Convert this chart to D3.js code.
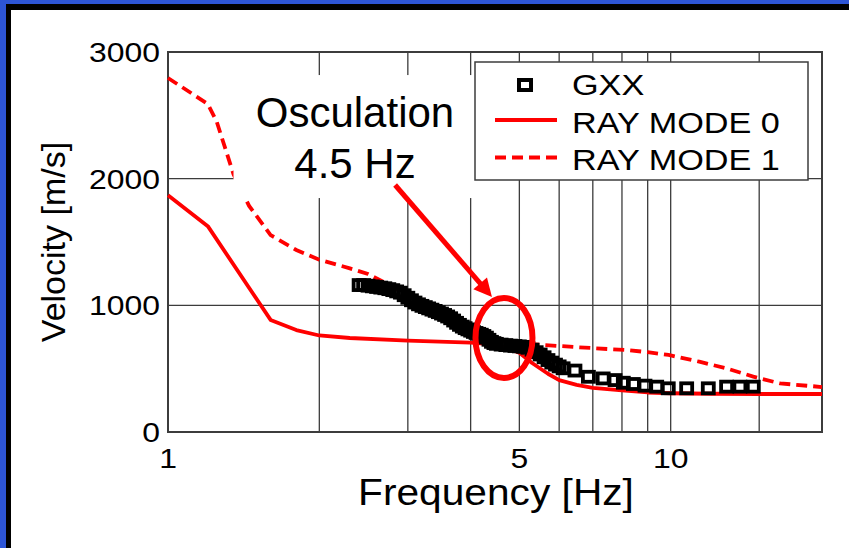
<!DOCTYPE html>
<html>
<head>
<meta charset="utf-8">
<script src="https://cdn.jsdelivr.net/npm/d3@7"></script>
<style>
  html, body { margin: 0; padding: 0; background: #2d55d6; }
  svg { display: block; }
  text { font-family: "Liberation Sans", Arial, Helvetica, sans-serif; fill: #000; }
</style>
</head>
<body>
<svg id="chart" width="849" height="548"></svg>
<script>
// tick labels and grid
const xTicks = [1, 5, 10];
const yTicks = [0, 1000, 2000, 3000];
const xGrid = [2, 3, 4, 5, 6, 7, 8, 9, 10, 15];
const yGrid = [1000, 2000];

// theoretical rayleigh modes [freq Hz, velocity m/s]
const mode0 = [[1,1870],[1.2,1625],[1.6,885],[1.8,805],[2,762],[2.3,742],[3,722],[4,705],[4.5,690],
  [5,625],[5.3,545],[5.7,460],[6,410],[6.5,372],[7,348],[8,328],[9,312],[10,306],[12,302],[15,300],[20,300]];
const mode1 = [[1,2795],[1.2,2590],[1.25,2450],[1.35,2035],[1.45,1785],[1.6,1555],[1.8,1437],[2,1360],
  [2.3,1292],[2.5,1247],[3,1085],[3.5,950],[4,830],[4.5,730],[5,700],[5.6,687],[6.5,670],[7.5,655],
  [8.2,647],[9,630],[9.9,608],[11.4,555],[12.9,503],[14.6,437],[16.5,384],[20,355]];

// measured GXX dispersion
const gxxFreq = [2.40,2.45,2.50,2.55,2.60,2.65,2.70,2.75,2.80,2.85,2.90,2.95,3.00,3.05,3.10,3.15,3.20,3.25,
  3.30,3.35,3.40,3.45,3.50,3.55,3.60,3.65,3.70,3.75,3.80,3.85,3.90,3.95,4.00,4.05,4.10,4.15,4.20,4.25,
  4.30,4.35,4.40,4.45,4.50,4.60,4.70,4.80,4.90,5.00,5.10,5.20,5.30,5.40,5.50,5.60,5.70,5.80,5.90,6.00,
  6.11,6.45,6.86,7.34,7.75,8.05,8.43,8.89,9.38,9.89,10.76,11.88,12.92,13.73,14.6];
const gxxVel = [1160,1160,1155,1150,1145,1140,1135,1128,1120,1110,1100,1080,1060,1040,1022,1008,996,986,
  976,966,956,946,935,924,912,898,880,862,846,832,820,810,800,790,782,775,768,758,
  745,728,712,702,696,690,686,682,679,676,672,665,650,630,612,590,568,548,532,518,
  503,485,436,423,410,389,379,366,358,345,345,345,358,358,358];

const legendLabels = ["GXX", "RAY MODE 0", "RAY MODE 1"];
const noteLines = ["Osculation", "4.5 Hz"];

const red = "#ff0000";
const gridCol = "#3c3c3c";

const svg = d3.select("#chart");

// slide frame: blue, black shadow, white page
svg.append("rect").attr("width", 849).attr("height", 548).attr("fill", "#2d55d6");
svg.append("rect").attr("x", 6).attr("y", 4).attr("width", 849).attr("height", 548).attr("fill", "#000");
svg.append("rect").attr("x", 11).attr("y", 10).attr("width", 849).attr("height", 548).attr("fill", "#fff");

const margin = { left: 168, right: 822, top: 52, bottom: 432 };
const x = d3.scaleLog().domain([1, 20]).range([margin.left, margin.right]);
const y = d3.scaleLinear().domain([0, 3000]).range([margin.bottom, margin.top]);

// horizontally stretched text, like the original figure
function sText(g, str, px, py, size, anchor, sx) {
  return g.append("text")
    .attr("transform", "translate(" + px + "," + py + ") scale(" + sx + ",1)")
    .attr("text-anchor", anchor)
    .style("font-size", size + "px")
    .text(str);
}

// grid
const grid = svg.append("g");
grid.selectAll(".vg").data(xGrid).enter().append("line")
  .attr("x1", d => x(d)).attr("x2", d => x(d))
  .attr("y1", margin.top).attr("y2", margin.bottom)
  .attr("stroke", gridCol).attr("stroke-width", 1.3);
grid.selectAll(".hg").data(yGrid).enter().append("line")
  .attr("x1", margin.left).attr("x2", margin.right)
  .attr("y1", d => y(d)).attr("y2", d => y(d))
  .attr("stroke", gridCol).attr("stroke-width", 1.3);
svg.append("rect")
  .attr("x", margin.left).attr("y", margin.top)
  .attr("width", margin.right - margin.left).attr("height", margin.bottom - margin.top)
  .attr("fill", "none").attr("stroke", gridCol).attr("stroke-width", 2);

// tick labels
const labels = svg.append("g");
xTicks.forEach(t => sText(labels, t, x(t), 468, 28, "middle", 1.14));
yTicks.forEach(t => sText(labels, t, 160, y(t) + 10, 28, "end", 1.14));

// axis titles
sText(svg, "Frequency [Hz]", (margin.left + margin.right) / 2 + 1, 505, 36, "middle", 1.13);
svg.append("text")
  .attr("transform", "translate(65," + (margin.top + margin.bottom) / 2 + ") rotate(-90)")
  .attr("text-anchor", "middle")
  .style("font-size", "34px")
  .text("Velocity [m/s]");

// mode curves
const line = d3.line().x(d => x(d[0])).y(d => y(d[1]));
svg.append("path").datum(mode0).attr("d", line)
  .attr("fill", "none").attr("stroke", red).attr("stroke-width", 3.8).attr("stroke-linejoin", "round");
svg.append("path").datum(mode1).attr("d", line)
  .attr("fill", "none").attr("stroke", red).attr("stroke-width", 3.8).attr("stroke-dasharray", "11,6");

// GXX squares
const sqW = 11, sqH = 10;
svg.append("g").selectAll("rect").data(gxxFreq).enter().append("rect")
  .attr("x", d => x(d) - sqW / 2)
  .attr("y", (d, i) => y(gxxVel[i]) - sqH / 2)
  .attr("width", sqW).attr("height", sqH)
  .attr("fill", "none").attr("stroke", "#000").attr("stroke-width", 3.8);

// annotation box and text
const note = svg.append("g");
note.append("rect")
  .attr("x", x(1.35)).attr("y", y(2818))
  .attr("width", x(4.3) - x(1.35)).attr("height", y(1847) - y(2818))
  .attr("fill", "#fff");
note.selectAll("text").data(noteLines).enter().append("text")
  .attr("x", x(2.355))
  .attr("y", (d, i) => i === 0 ? y(2408) : y(2005))
  .attr("text-anchor", "middle")
  .style("font-size", "42px")
  .text(d => d);

// legend
const leg = svg.append("g");
leg.append("rect").attr("x", 475).attr("y", 62).attr("width", 333).attr("height", 118)
  .attr("fill", "#fff").attr("stroke", gridCol).attr("stroke-width", 1.5);
legendLabels.forEach((lab, i) => {
  const base = 95 + i * 37.5;
  sText(leg, lab, 572, base, 29, "start", 1.18);
  if (i === 0) {
    leg.append("rect").attr("x", 525 - 6).attr("y", base - 10 - 5).attr("width", 12).attr("height", 10)
      .attr("fill", "none").attr("stroke", "#000").attr("stroke-width", 4);
  } else {
    leg.append("line").attr("x1", 495).attr("x2", 557)
      .attr("y1", base - 12.5).attr("y2", base - 12.5)
      .attr("stroke", red).attr("stroke-width", 3.8)
      .attr("stroke-dasharray", i === 2 ? "11,6" : null);
  }
});

// osculation ellipse
svg.append("ellipse")
  .attr("cx", x(4.66)).attr("cy", y(742))
  .attr("rx", 28.5).attr("ry", 40)
  .attr("fill", "none").attr("stroke", red).attr("stroke-width", 6);

// arrow
const a0 = [x(2.83), y(1950)], a1 = [x(4.41), y(1066)];
const dx = a1[0] - a0[0], dy = a1[1] - a0[1], len = Math.hypot(dx, dy);
const ux = dx / len, uy = dy / len, headL = 18, headW = 9;
const bx = a1[0] - ux * headL, by = a1[1] - uy * headL;
svg.append("line")
  .attr("x1", a0[0]).attr("y1", a0[1]).attr("x2", bx + ux * 2).attr("y2", by + uy * 2)
  .attr("stroke", red).attr("stroke-width", 5);
svg.append("polygon")
  .attr("points", [a1, [bx - uy * headW, by + ux * headW], [bx + uy * headW, by - ux * headW]]
    .map(p => p.join(",")).join(" "))
  .attr("fill", red);
</script>
</body>
</html>
